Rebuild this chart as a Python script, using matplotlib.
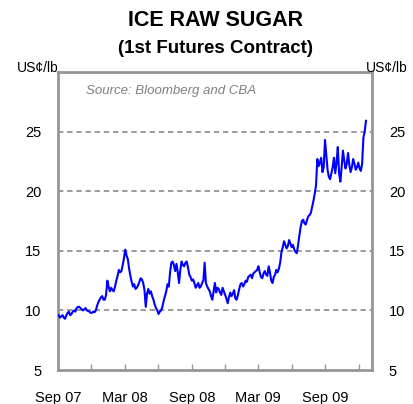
import numpy as np
import pandas as pd
import matplotlib
matplotlib.use("Agg")
import matplotlib.pyplot as plt
import matplotlib.dates as mdates

plt.rcParams["font.family"] = ["Liberation Sans", "DejaVu Sans"]

# ICE raw sugar, 1st futures (US c/lb)
# Monday closes, weekly
start_date = "2007-09-03"
prices = [
    9.6, 9.5, 9.4, 9.6, 9.9, 9.7, 10.0, 10.2, 10.3, 10.1,
    10.1, 10.0, 9.9, 9.8, 9.85, 10.4, 10.9, 11.2, 10.9, 12.5,
    11.6, 11.7, 12.0, 12.9, 13.2, 13.8, 15.1, 14.3, 12.9, 12.0,
    11.8, 12.1, 12.7, 12.3, 10.3, 11.8, 11.6, 10.9, 10.2, 9.7,
    10.0, 10.8, 11.6, 12.0, 14.0, 13.8, 13.9, 12.3, 14.1, 13.7,
    14.1, 13.0, 12.5, 12.3, 12.1, 11.9, 12.3, 14.0, 12.0, 11.6,
    10.9, 12.3, 11.9, 11.5, 11.9, 11.3, 10.6, 11.5, 11.4, 11.0,
    11.3, 12.2, 12.0, 12.5, 12.8, 13.0, 13.1, 13.3, 13.7, 12.8,
    13.1, 13.0, 13.7, 12.5, 12.8, 13.4, 13.5, 14.9, 15.8, 15.2,
    15.9, 15.3, 15.1, 14.8, 16.3, 17.5, 17.3, 17.6, 18.0, 18.7,
    19.8, 22.7, 22.4, 21.6, 24.3, 21.8, 21.0, 22.0, 21.5, 23.7,
    20.8, 23.4, 21.9, 23.2, 21.6, 22.7, 21.8, 22.4, 21.7, 24.5,
    25.9,
]
# Thursday closes, between the weekly points above
mid_week = [
    9.4, 9.6, 9.3, 9.8, 9.6, 9.9, 9.9, 10.3, 10.2, 10.0,
    10.2, 9.95, 9.8, 9.9, 10.0, 10.7, 11.1, 10.9, 11.3, 12.0,
    11.9, 11.6, 12.5, 13.4, 13.3, 14.4, 14.6, 13.5, 12.4, 12.2,
    11.9, 12.4, 12.6, 11.7, 11.4, 11.4, 11.2, 10.5, 10.0, 9.9,
    10.3, 11.2, 12.2, 13.2, 14.1, 13.3, 13.2, 13.4, 13.8, 14.0,
    13.6, 12.8, 12.6, 11.9, 12.3, 12.0, 12.5, 12.3, 11.8, 11.2,
    11.6, 11.5, 11.8, 11.3, 11.6, 11.0, 11.1, 11.2, 11.7, 10.9,
    11.8, 12.3, 12.2, 12.4, 12.9, 12.7, 13.2, 13.4, 13.2, 12.7,
    13.3, 12.9, 13.2, 12.3, 13.0, 13.2, 14.0, 15.3, 15.5, 15.4,
    15.6, 15.5, 14.9, 15.5, 17.0, 17.6, 17.2, 17.9, 18.2, 19.2,
    20.5, 22.1, 22.8, 22.0, 23.0, 21.2, 21.5, 22.8, 22.4, 21.5,
    22.0, 22.6, 22.3, 22.2, 22.0, 22.3, 22.0, 21.9, 22.3, 25.0,
]

series = [None] * (len(prices) + len(mid_week))
series[0::2] = prices
series[1::2] = mid_week
dates = pd.date_range(start_date, periods=len(series), freq="84h")

x_start, x_end = "2007-09-01", "2010-01-07"
y_ticks = [5, 10, 15, 20, 25]
grid_levels = [10, 15, 20, 25]
x_label_months = ["2007-09-01", "2008-03-01", "2008-09-01", "2009-03-01", "2009-09-01"]

frame_col = "#969696"
grid_col = "#808080"

fig = plt.figure(figsize=(4.14, 4.04), dpi=100)
ax = fig.add_axes([0.140, 0.084, 0.759, 0.738])

for lvl in grid_levels:
    ax.axhline(lvl, color=grid_col, lw=1.1, ls=(0, (3.5, 2.5)), zorder=1)

ax.plot(dates, series, color="#0000FF", lw=1.5, zorder=3)

ax.set_xlim(pd.Timestamp(x_start), pd.Timestamp(x_end))
ax.set_ylim(5, 30)

ax.xaxis.set_major_locator(mdates.MonthLocator(bymonth=[3, 6, 9, 12]))
lab_set = set(pd.to_datetime(x_label_months))


def fmt(v, pos):
    d = mdates.num2date(v).replace(tzinfo=None)
    d = pd.Timestamp(d.year, d.month, 1)
    return d.strftime("%b %y") if d in lab_set else ""


ax.xaxis.set_major_formatter(plt.FuncFormatter(fmt))
ax.tick_params(axis="x", direction="in", length=4, width=1, color=frame_col,
               labelsize=10.5, pad=15)

ax.set_yticks(y_ticks)
ax.tick_params(axis="y", length=0, labelsize=10.5, pad=12,
               labelleft=True, labelright=True)

for s in ax.spines.values():
    s.set_color(frame_col)
    s.set_linewidth(2)

fig.text(0.52, 0.950, "ICE RAW SUGAR", ha="center", va="center",
         fontsize=15.5, fontweight="bold")
fig.text(0.52, 0.880, "(1st Futures Contract)", ha="center", va="center",
         fontsize=13.5, fontweight="bold")
fig.text(0.041, 0.832, "US¢/lb", ha="left", va="center", fontsize=10)
fig.text(0.883, 0.832, "US¢/lb", ha="left", va="center", fontsize=10)
ax.text(0.09, 0.935, "Source: Bloomberg and CBA", transform=ax.transAxes,
        ha="left", va="center", fontsize=9.5, style="italic", color="#808080")

fig.savefig("out.png", dpi=100)
